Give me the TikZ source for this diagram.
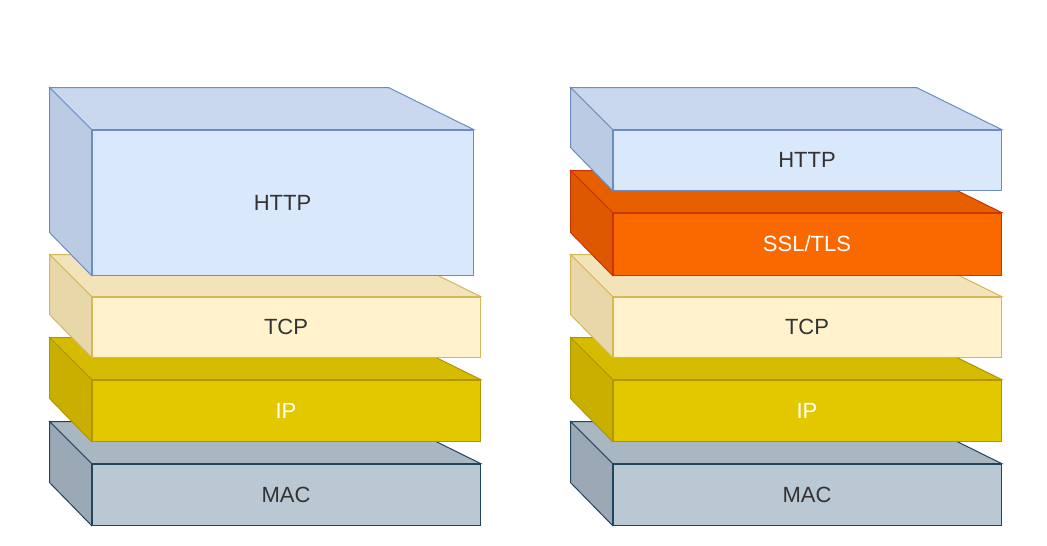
\documentclass[tikz,border=0pt]{standalone}
\usepackage{fontspec}
\setmainfont{Liberation Sans}
\definecolor{httpF}{HTML}{DAE8FC}\definecolor{httpT}{HTML}{C9D8EF}\definecolor{httpS}{HTML}{BCCBE4}\definecolor{httpL}{HTML}{6C8EBF}
\definecolor{tcpF}{HTML}{FFF2CC}\definecolor{tcpT}{HTML}{F2E3B8}\definecolor{tcpS}{HTML}{E8D7A8}\definecolor{tcpL}{HTML}{D6B656}
\definecolor{ipF}{HTML}{E3C800}\definecolor{ipT}{HTML}{D6BC00}\definecolor{ipS}{HTML}{C9B000}\definecolor{ipL}{HTML}{B09500}
\definecolor{macF}{HTML}{BAC8D3}\definecolor{macT}{HTML}{A8B7C2}\definecolor{macS}{HTML}{9AA9B5}\definecolor{macL}{HTML}{23445D}
\definecolor{sslF}{HTML}{FA6800}\definecolor{sslT}{HTML}{E85F00}\definecolor{sslS}{HTML}{DD5800}\definecolor{sslL}{HTML}{C73500}
% \layerbox{name}{x}{y}{width}{height}{colour}{text colour}{label}
\newcommand{\layerbox}[8]{
  \node[front, minimum width=#4, minimum height=#5, fill=#6F, draw=#6L, text=#7]
    (#1) at (#2+#4/2, #3+#5/2) {#8};
  \draw[#6L, fill=#6T] (#1.north west) -- ++(-42,-42) -- ++(#4-42,0) -- (#1.north east) -- cycle;
  \draw[#6L, fill=#6S] (#1.north west) -- ++(-42,-42) -- ++(0,#5) -- (#1.south west) -- cycle;
}
\begin{document}
\begin{tikzpicture}[x=1pt, y=-1pt,
  front/.style={rectangle, inner sep=0pt, line width=1pt, font=\fontsize{22}{24}\selectfont},
  every path/.style={line width=1pt}]
  \useasboundingbox (0,0) rectangle (1047,546);

  % plain stack
  \layerbox{macA}{92}{464}{388}{61}{mac}{black!80}{MAC}
  \layerbox{ipA}{92}{380}{388}{61}{ip}{white}{IP}
  \layerbox{tcpA}{92}{297}{388}{60}{tcp}{black!80}{TCP}
  \layerbox{httpA}{92}{130}{381}{145}{http}{black!80}{HTTP}

  % stack with SSL/TLS
  \layerbox{macB}{613}{464}{388}{61}{mac}{black!80}{MAC}
  \layerbox{ipB}{613}{380}{388}{61}{ip}{white}{IP}
  \layerbox{tcpB}{613}{297}{388}{60}{tcp}{black!80}{TCP}
  \layerbox{sslB}{613}{213}{388}{62}{ssl}{white}{SSL/TLS}
  \layerbox{httpB}{613}{130}{388}{60}{http}{black!80}{HTTP}
\end{tikzpicture}
\end{document}
